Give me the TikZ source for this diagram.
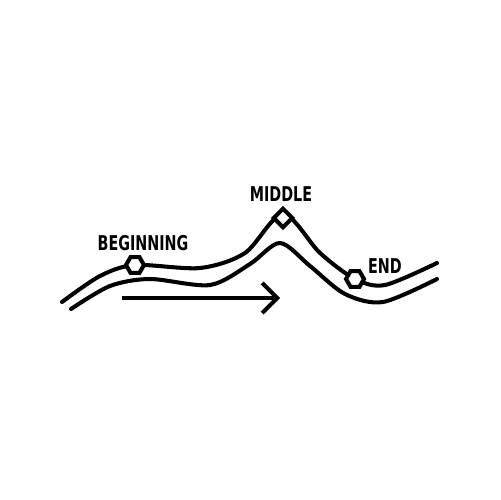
\documentclass[tikz,border=0pt]{standalone}
\usepackage{fontspec}
\newfontfamily\stagefont[FakeStretch=0.78]{DejaVu Sans Condensed}
\usetikzlibrary{shapes.geometric,arrows.meta}

\tikzset{
  road/.style={line width=2.3pt, line cap=round, line join=round},
  hexmark/.style={regular polygon, regular polygon sides=6, draw, fill=white,
    line width=2.3pt, inner sep=0pt, minimum size=0.36cm},
  peakmark/.style={diamond, draw, fill=white, line width=2.3pt, inner sep=0pt,
    minimum size=0.4cm},
  stagelabel/.style={font=\stagefont\bfseries\fontsize{11.6}{13}\selectfont, inner sep=0pt},
}

\begin{document}
\begin{tikzpicture}[x=0.02cm, y=-0.02cm]
  \useasboundingbox (0,0) rectangle (500,500);
  % the two strands of the road
  \draw[road] plot[smooth] coordinates {(62,302) (100,276) (135,265) (200,268) (245,253) (283,214) (320,253) (355,279) (385,285) (437,263)};
  \draw[road] plot[smooth] coordinates {(71,309) (110,286) (150,279) (210,285) (250,264) (280,243) (310,266) (345,294) (383,302) (437,279)};
  % stages
  \node[hexmark] (begin) at (135,265) {};
  \node[peakmark] (middle) at (283,218) {};
  \node[hexmark] (end) at (355,279) {};
  \node[stagelabel] (begintext) at (143,243) {BEGINNING};
  \node[stagelabel] (middletext) at (281,194) {MIDDLE};
  \node[stagelabel] (endtext) at (385,266) {END};
  % direction
  \coordinate (arrowstart) at (122,298);
  \coordinate (arrowend) at (280,298);
  \draw[road, line cap=butt, -{Straight Barb[length=0.3cm, width=0.6cm, line width=2.3pt]}] (arrowstart) -- (arrowend);
\end{tikzpicture}
\end{document}
